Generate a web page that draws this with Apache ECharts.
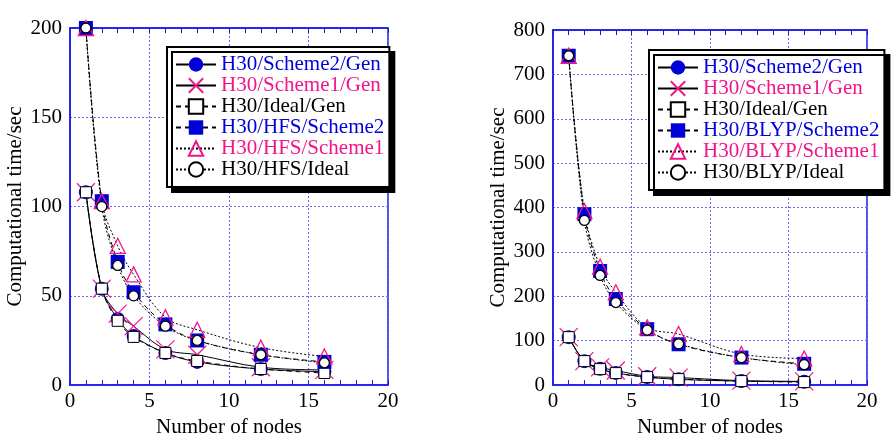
<!DOCTYPE html>
<html>
<head>
<meta charset="utf-8">
<script src="https://cdn.jsdelivr.net/npm/echarts@6/dist/echarts.min.js"></script>
<style>
  html, body { margin: 0; padding: 0; background: #fff; }
  #main { width: 894px; height: 443px; }
</style>
</head>
<body>
<div id="main"></div>
<script>
// node counts on the x axis
var nodes = [1, 2, 3, 4, 6, 8, 12, 16];

// shared "Gen" runs (both panels)
var genScheme2 = [108, 54, 37, 27.5, 18, 13, 9, 7.5];
var genScheme1 = [108, 54, 40, 33, 20, 17, 10, 8.5];
var genIdeal = [108, 54, 36, 27, 18, 13.5, 9, 6.8];

// left panel, HFS
var hfsScheme2 = [200, 103, 69, 52, 34, 25, 17, 13];
var hfsScheme1 = [200, 103, 78, 62, 38, 31, 21, 16];
var hfsIdeal = [200, 100, 67, 50, 33, 25, 17, 12.5];

// right panel, BLYP
var blypScheme2 = [742, 385, 257, 194, 126, 92, 62, 48];
var blypScheme1 = [742, 392, 267, 209, 130, 115, 70, 60];
var blypIdeal = [742, 371, 247, 186, 124, 93, 62, 46];

var xTicks = [0, 5, 10, 15, 20];
var leftMax = 200, leftStep = 50;
var rightMax = 800, rightStep = 100;

var BLUE = '#0000d8';
var PINK = '#f0168a';
var AXIS = '#1a1ae6';
var GRIDC = '#6666ee';
var FONT = 'Liberation Serif';

var chart = echarts.init(document.getElementById('main'));

function pts(arr) {
  return nodes.map(function (x, i) { return [x, arr[i]]; });
}

var looks = {
  s2gen: { symbol: 'circle', size: 14, item: { color: BLUE }, line: 'solid' },
  s1gen: { symbol: 'path://M0,0L10,10M10,0L0,10', size: 18,
           item: { color: 'none', borderColor: PINK, borderWidth: 1.2 }, line: 'solid' },
  idgen: { symbol: 'rect', size: 11, item: { color: '#fff', borderColor: '#000', borderWidth: 1 }, line: [5, 4] },
  s2: { symbol: 'rect', size: 14, item: { color: BLUE }, line: [5, 4] },
  s1: { symbol: 'triangle', size: 15, item: { color: 'rgba(255,255,255,0)', borderColor: PINK, borderWidth: 1.3 }, line: [2, 2] },
  id: { symbol: 'circle', size: 10, item: { color: '#fff', borderColor: '#000', borderWidth: 1.3 }, line: [2, 2] }
};

function mk(name, arr, look, gi) {
  var l = looks[look];
  return {
    name: name,
    type: 'line',
    xAxisIndex: gi * 2,
    yAxisIndex: gi,
    data: pts(arr),
    smooth: 0.35,
    symbol: l.symbol,
    symbolSize: l.size,
    showAllSymbol: true,
    itemStyle: l.item,
    lineStyle: { color: '#000', width: 1, type: l.line },
    emphasis: { disabled: true }
  };
}

function xAx(gi, top) {
  return {
    gridIndex: gi,
    type: 'value',
    position: top ? 'top' : 'bottom',
    min: xTicks[0], max: xTicks[xTicks.length - 1], interval: 5,
    name: top ? '' : 'Number of nodes',
    nameLocation: 'middle',
    nameGap: 27,
    nameTextStyle: { fontFamily: FONT, fontSize: 21, color: '#000' },
    axisLine: { show: true, lineStyle: { color: AXIS, width: 1.5 } },
    axisTick: { show: true, inside: true, length: 5, lineStyle: { color: AXIS } },
    minorTick: { show: true, splitNumber: 5, length: 5, lineStyle: { color: AXIS } },
    axisLabel: { show: !top, fontFamily: FONT, fontSize: 21, color: '#000', margin: 6 },
    splitLine: { show: !top, lineStyle: { color: GRIDC, type: [2, 2], width: 1 } }
  };
}

function yAx(gi, max, step) {
  return {
    gridIndex: gi,
    type: 'value',
    min: 0, max: max, interval: step,
    name: 'Computational time/sec',
    nameLocation: 'middle',
    nameGap: 44,
    nameTextStyle: { fontFamily: FONT, fontSize: 21, color: '#000' },
    axisLine: { show: true, lineStyle: { color: AXIS, width: 1.5 } },
    axisTick: { show: false },
    axisLabel: { fontFamily: FONT, fontSize: 21, color: '#000', margin: 8 },
    splitLine: { lineStyle: { color: GRIDC, type: [2, 2], width: 1 } }
  };
}

function legend(left, top, names) {
  var colors = [BLUE, PINK, '#000', BLUE, PINK, '#000'];
  return {
    orient: 'vertical',
    left: left, top: top,
    itemWidth: 40, itemHeight: 18, itemGap: 0,
    padding: [7, 5, 7, 8],
    backgroundColor: '#fff',
    borderColor: '#000', borderWidth: 2,
    shadowColor: '#000', shadowBlur: 0, shadowOffsetX: 5, shadowOffsetY: 5,
    textStyle: { fontFamily: FONT, fontSize: 21, lineHeight: 21 },
    data: names.map(function (n, i) { return { name: n, textStyle: { color: colors[i] } }; })
  };
}

var leftNames = ['H30/Scheme2/Gen', 'H30/Scheme1/Gen', 'H30/Ideal/Gen',
                 'H30/HFS/Scheme2', 'H30/HFS/Scheme1', 'H30/HFS/Ideal'];
var rightNames = ['H30/Scheme2/Gen', 'H30/Scheme1/Gen', 'H30/Ideal/Gen',
                  'H30/BLYP/Scheme2', 'H30/BLYP/Scheme1', 'H30/BLYP/Ideal'];

var option = {
  animation: false,
  backgroundColor: '#fff',
  grid: [
    { left: 70, top: 28, width: 318, height: 366, show: true, borderColor: AXIS, borderWidth: 1.5 },
    { left: 553, top: 30, width: 314, height: 365, show: true, borderColor: AXIS, borderWidth: 1.5 }
  ],
  xAxis: [xAx(0, false), xAx(0, true), xAx(1, false), xAx(1, true)],
  yAxis: [yAx(0, leftMax, leftStep), yAx(1, rightMax, rightStep)],
  legend: [legend(167, 47, leftNames), legend(649, 50, rightNames)],
  series: [
    mk(leftNames[0], genScheme2, 's2gen', 0),
    mk(leftNames[1], genScheme1, 's1gen', 0),
    mk(leftNames[2], genIdeal, 'idgen', 0),
    mk(leftNames[3], hfsScheme2, 's2', 0),
    mk(leftNames[4], hfsScheme1, 's1', 0),
    mk(leftNames[5], hfsIdeal, 'id', 0),
    mk(rightNames[0], genScheme2, 's2gen', 1),
    mk(rightNames[1], genScheme1, 's1gen', 1),
    mk(rightNames[2], genIdeal, 'idgen', 1),
    mk(rightNames[3], blypScheme2, 's2', 1),
    mk(rightNames[4], blypScheme1, 's1', 1),
    mk(rightNames[5], blypIdeal, 'id', 1)
  ]
};

chart.setOption(option);
</script>
</body>
</html>
